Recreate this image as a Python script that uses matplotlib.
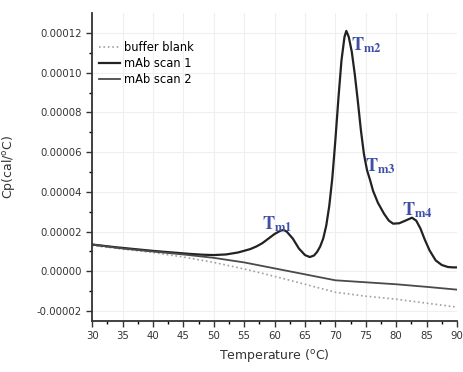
import matplotlib.pyplot as plt
import numpy as np

# Cp values in units of 1e-5 cal/°C
temp_scan1 = [30, 32, 34, 36, 38, 40, 42, 44, 46, 48, 50, 52, 54, 56, 57, 58, 59, 60, 61, 61.5,
              62, 63, 64, 65, 65.8, 66.5, 67, 67.5, 68, 68.5, 69, 69.5, 70, 70.5, 71, 71.5, 71.8,
              72.2, 72.7, 73.2, 73.7, 74.2, 74.7, 75.2, 75.7, 76.2, 77, 78, 78.8, 79.5, 80.5, 81.5,
              82.6, 83.3, 84, 84.7, 85.5, 86.5, 87.5, 88.5, 89.3, 90]
cp_scan1 = [1.35, 1.28, 1.21, 1.15, 1.09, 1.03, 0.98, 0.93, 0.88, 0.84, 0.82, 0.85, 0.95, 1.12,
            1.25, 1.42, 1.65, 1.88, 2.05, 2.08, 2.0, 1.65, 1.15, 0.82, 0.72, 0.8, 0.98, 1.25, 1.65,
            2.3, 3.3, 4.7, 6.6, 8.7, 10.6, 11.8, 12.1, 11.8, 11.05, 9.9, 8.55, 7.1, 5.9, 5.1, 4.6,
            4.05, 3.45, 2.9, 2.55, 2.4, 2.42, 2.55, 2.7, 2.55, 2.15, 1.6, 1.05, 0.55, 0.32, 0.22,
            0.2, 0.2]

temp_scan2 = [30, 35, 40, 45, 50, 55, 60, 65, 70, 75, 80, 85, 90]
cp_scan2 = [1.35, 1.15, 1.0, 0.85, 0.68, 0.45, 0.15, -0.15, -0.45, -0.55, -0.65, -0.78, -0.92]

temp_blank = [30, 35, 40, 45, 50, 55, 60, 65, 70, 75, 80, 85, 90]
cp_blank = [1.3, 1.12, 0.95, 0.72, 0.45, 0.12, -0.25, -0.65, -1.05, -1.25, -1.4, -1.6, -1.8]

peak_labels = ['m1', 'm2', 'm3', 'm4']
peak_x = [58.0, 72.6, 74.9, 81.0]
peak_y = [2.4, 11.4, 5.3, 3.1]

scale = 1e-5

fig = plt.figure(figsize=(4.63, 3.72), dpi=100)
ax = fig.add_axes([0.199, 0.137, 0.788, 0.828])

ax.plot(temp_blank, np.array(cp_blank) * scale, color='#a0a0a0', linestyle=':', linewidth=1.2,
        label='buffer blank')
ax.plot(temp_scan1, np.array(cp_scan1) * scale, color='#222222', linewidth=1.6, label='mAb scan 1')
ax.plot(temp_scan2, np.array(cp_scan2) * scale, color='#4a4a4a', linewidth=1.3, label='mAb scan 2')

for lab, x, y in zip(peak_labels, peak_x, peak_y):
    ax.text(x, y * scale, r'$\mathbf{T_{' + lab + '}}$', color='#3f4fa8', fontsize=13,
            ha='left', va='center', math_fontfamily='stix')

ax.set_xlim(30, 90)
ax.set_ylim(-0.000025, 0.00013)
ax.set_xticks(np.arange(30, 91, 5))
ax.set_xticks(np.arange(30, 91, 2.5), minor=True)
ax.set_yticks(np.arange(-0.00002, 0.000121, 0.00002))
ax.set_yticks(np.arange(-0.00002, 0.000121, 0.00001), minor=True)
ax.set_yticklabels(['%.5f' % v for v in np.arange(-0.00002, 0.000121, 0.00002)])
ax.tick_params(labelsize=7.3, direction='out', length=4, width=1, colors='#333333')
ax.tick_params(which='minor', length=2.5, width=1)
ax.grid(True, color='#efefef', linewidth=0.8)
ax.set_axisbelow(True)

for s in ['top', 'right']:
    ax.spines[s].set_visible(False)
for s in ['left', 'bottom']:
    ax.spines[s].set_linewidth(1.3)
    ax.spines[s].set_color('#333333')

ax.set_xlabel('Temperature ($^\\mathregular{o}$C)', fontsize=9, color='#333333')
ax.set_ylabel('Cp(cal/$^\\mathregular{o}$C)', fontsize=9, color='#333333')
ax.yaxis.set_label_coords(-0.205, 0.5)

ax.legend(loc='upper left', bbox_to_anchor=(0.0, 0.93), frameon=False, fontsize=8.3,
          handlelength=1.8, handletextpad=0.4, labelspacing=0.25, borderaxespad=0.2)

plt.savefig('out.png', dpi=100)
